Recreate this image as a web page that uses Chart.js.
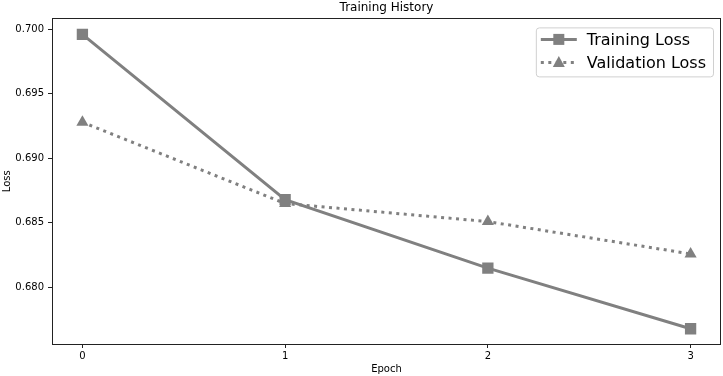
<!DOCTYPE html>
<html>
<head>
<meta charset="utf-8">
<script src="https://cdn.jsdelivr.net/npm/chart.js@4/dist/chart.umd.min.js"></script>
<style>
html, body { margin: 0; padding: 0; background: #fff; }
</style>
</head>
<body>
<canvas id="c" width="723" height="376"></canvas>
<script>
const epochs = [0, 1, 2, 3];
const trainLoss = [0.6996, 0.6868, 0.6815, 0.6768];
const valLoss = [0.6928, 0.6865, 0.6851, 0.6826];
const xTicks = [0, 1, 2, 3];
const yTicks = [0.680, 0.685, 0.690, 0.695, 0.700];
const seriesNames = ['Training Loss', 'Validation Loss'];

const FONT = '"DejaVu Sans", sans-serif';
const GRAY = '#808080';

// axes frame + matplotlib style legend
const mplPlugin = {
    id: 'mpl',
    afterDraw(chart) {
        const ctx = chart.ctx;
        const ca = chart.chartArea;
        ctx.save();
        ctx.strokeStyle = '#222';
        ctx.lineWidth = 1;
        ctx.strokeRect(Math.round(ca.left) + 0.5, Math.round(ca.top) + 0.5,
            Math.round(ca.right - ca.left) - 1, Math.round(ca.bottom - ca.top));

        // legend
        ctx.font = '16px ' + FONT;
        let tw = 0;
        chart.data.datasets.forEach(ds => { tw = Math.max(tw, ctx.measureText(ds.label).width); });
        const w = 5 + 36 + 10 + tw + 7;
        const h = 49;
        const bx = ca.right - 8 - w;
        const by = ca.top + 9;
        ctx.fillStyle = 'rgba(255,255,255,0.8)';
        ctx.strokeStyle = '#d0d0d0';
        ctx.beginPath();
        ctx.roundRect(bx + 0.5, by + 0.5, w, h, 3);
        ctx.fill();
        ctx.stroke();
        chart.data.datasets.forEach((ds, i) => {
            const cy = by + 12 + i * 23;
            const lx = bx + 5;
            ctx.strokeStyle = ds.borderColor;
            ctx.lineWidth = ds.borderWidth;
            ctx.setLineDash(ds.borderDash || []);
            ctx.beginPath();
            ctx.moveTo(lx, cy);
            ctx.lineTo(lx + 36, cy);
            ctx.stroke();
            ctx.setLineDash([]);
            ctx.fillStyle = ds.borderColor;
            const mx = lx + 18;
            if (ds.pointStyle === 'rect') {
                ctx.fillRect(mx - 5.5, cy - 5.5, 11, 11);
            } else {
                ctx.beginPath();
                ctx.moveTo(mx, cy - 6.5);
                ctx.lineTo(mx + 6, cy + 4.5);
                ctx.lineTo(mx - 6, cy + 4.5);
                ctx.closePath();
                ctx.fill();
            }
            ctx.fillStyle = '#000';
            ctx.textBaseline = 'middle';
            ctx.textAlign = 'left';
            ctx.fillText(ds.label, lx + 46, cy + 1);
        });
        ctx.restore();
    }
};

new Chart(document.getElementById('c').getContext('2d'), {
    type: 'line',
    data: {
        datasets: [{
            label: seriesNames[0],
            data: epochs.map((e, i) => ({ x: e, y: trainLoss[i] })),
            borderColor: GRAY,
            backgroundColor: GRAY,
            borderWidth: 3,
            pointStyle: 'rect',
            pointRadius: 8,
            pointBorderWidth: 0,
            tension: 0
        }, {
            label: seriesNames[1],
            data: epochs.map((e, i) => ({ x: e, y: valLoss[i] })),
            borderColor: GRAY,
            backgroundColor: GRAY,
            borderWidth: 3,
            borderDash: [3, 4.5],
            pointStyle: 'triangle',
            pointRadius: 7,
            pointBorderWidth: 0,
            tension: 0
        }]
    },
    options: {
        responsive: false,
        animation: false,
        layout: { autoPadding: false, padding: { left: 0, right: 2, top: 0, bottom: 0 } },
        plugins: {
            legend: { display: false },
            tooltip: { enabled: false },
            title: {
                display: true,
                text: 'Training History',
                fullSize: false,
                color: '#000',
                font: { family: FONT, size: 12, weight: 'normal' },
                padding: { top: 1, bottom: 3 }
            }
        },
        scales: {
            x: {
                type: 'linear',
                min: -0.15,
                max: 3.15,
                afterBuildTicks: s => { s.ticks = xTicks.map(v => ({ value: v })); },
                afterFit: s => { s.height = 32; },
                ticks: {
                    color: '#000',
                    font: { family: FONT, size: 10 },
                    padding: 2,
                    maxRotation: 0,
                    callback: v => String(v)
                },
                grid: { drawOnChartArea: false, drawTicks: true, tickLength: 4, color: '#222' },
                border: { display: false },
                title: {
                    display: true,
                    text: 'Epoch',
                    color: '#000',
                    font: { family: FONT, size: 10 },
                    padding: { top: 0, bottom: 1 }
                }
            },
            y: {
                min: 0.67562,
                max: 0.70084,
                afterBuildTicks: s => { s.ticks = yTicks.map(v => ({ value: v })); },
                afterFit: s => { s.width = 52; },
                ticks: {
                    color: '#000',
                    font: { family: FONT, size: 10 },
                    padding: 4,
                    callback: v => v.toFixed(3)
                },
                grid: { drawOnChartArea: false, drawTicks: true, tickLength: 4, color: '#222' },
                border: { display: false },
                title: {
                    display: true,
                    text: 'Loss',
                    color: '#000',
                    font: { family: FONT, size: 10 },
                    padding: { top: 1, bottom: 0 }
                }
            }
        }
    },
    plugins: [mplPlugin]
});
</script>
</body>
</html>
